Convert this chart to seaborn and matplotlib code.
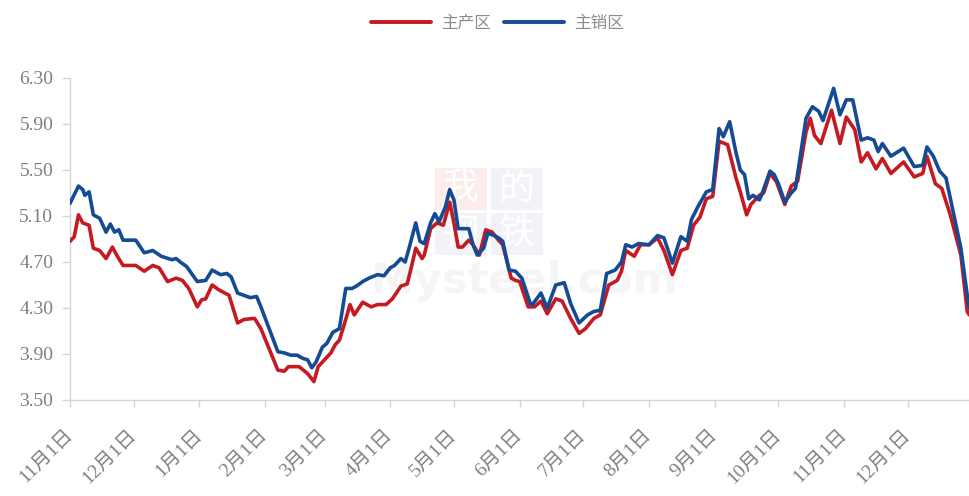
import matplotlib
matplotlib.use("Agg")
import matplotlib.pyplot as plt
import matplotlib.transforms as mtransforms
from matplotlib.lines import Line2D
from matplotlib.patches import Rectangle
import numpy as np
import pandas as pd
import seaborn as sns

# ---- data: price index of main producing / main consuming regions ----
start_date = "2020-11-01"

series_names = ["主产区", "主销区"]

# day offsets from start_date and values for 主产区
days_prod = [0, 2, 4, 6, 9, 11, 14, 17, 20, 22, 25, 31, 35, 39, 42, 46, 50, 53, 56, 60,
             62, 64, 67, 70, 75, 79, 82, 87, 90, 98, 101, 103, 106, 108, 112, 115, 117,
             119, 123, 125, 127, 130, 132, 134, 138, 142, 145, 149, 152, 156, 159, 161,
             163, 166, 167, 170, 173, 176, 179, 181, 183, 185, 188, 190, 193, 196, 199,
             202, 204, 208, 210, 212, 216, 219, 222, 225, 229, 232, 236, 240, 243, 247,
             250, 254, 258, 260, 262, 266, 269, 273, 277, 280, 284, 288, 291, 294, 297,
             300, 303, 306, 310, 314, 316, 319, 321, 325, 327, 330, 333, 337, 340, 343,
             347, 349, 351, 354, 359, 363, 366, 370, 373, 376, 380, 383, 387, 393, 398,
             402, 404, 408, 411, 415, 420, 423, 424]
vals_prod = [4.88, 4.92, 5.11, 5.04, 5.02, 4.82, 4.80, 4.73, 4.83, 4.76, 4.67, 4.67, 4.62,
             4.67, 4.65, 4.53, 4.56, 4.54, 4.47, 4.31, 4.37, 4.38, 4.50, 4.46, 4.41, 4.17,
             4.20, 4.21, 4.12, 3.76, 3.75, 3.79, 3.79, 3.79, 3.73, 3.66, 3.79, 3.83, 3.91,
             3.98, 4.02, 4.20, 4.33, 4.24, 4.35, 4.31, 4.33, 4.33, 4.38, 4.49, 4.51, 4.66,
             4.82, 4.73, 4.76, 4.99, 5.04, 5.02, 5.22, 5.04, 4.83, 4.83, 4.89, 4.85, 4.76,
             4.98, 4.96, 4.89, 4.85, 4.56, 4.54, 4.53, 4.31, 4.31, 4.36, 4.25, 4.38, 4.36,
             4.21, 4.08, 4.12, 4.21, 4.24, 4.50, 4.54, 4.62, 4.80, 4.75, 4.85, 4.85, 4.91,
             4.80, 4.59, 4.80, 4.82, 5.02, 5.09, 5.25, 5.27, 5.75, 5.72, 5.43, 5.31, 5.11,
             5.20, 5.28, 5.30, 5.47, 5.40, 5.20, 5.36, 5.40, 5.83, 5.95, 5.80, 5.73, 6.02,
             5.73, 5.96, 5.85, 5.57, 5.65, 5.51, 5.60, 5.47, 5.57, 5.44, 5.47, 5.62, 5.38,
             5.34, 5.11, 4.76, 4.27, 4.24]

# day offsets from start_date and values for 主销区
days_sales = [0, 4, 6, 7, 9, 11, 14, 17, 19, 21, 23, 25, 31, 35, 39, 43, 48, 50, 52, 55,
              60, 64, 67, 71, 74, 76, 79, 82, 85, 88, 90, 98, 101, 104, 107, 110, 112,
              114, 116, 119, 121, 124, 127, 130, 133, 135, 138, 141, 145, 148, 151, 153,
              156, 158, 160, 163, 165, 167, 170, 172, 174, 177, 179, 181, 183, 185, 188,
              190, 192, 195, 197, 200, 202, 204, 207, 210, 213, 217, 218, 222, 225, 229,
              233, 236, 240, 244, 247, 250, 253, 257, 260, 262, 265, 268, 273, 277, 280,
              284, 288, 291, 293, 296, 300, 303, 306, 308, 311, 314, 316, 318, 320, 322,
              325, 326, 330, 332, 334, 337, 340, 342, 347, 350, 353, 355, 360, 363, 366,
              369, 373, 376, 379, 381, 383, 387, 393, 398, 402, 404, 407, 410, 413, 417,
              420, 423, 424]
vals_sales = [5.21, 5.36, 5.33, 5.28, 5.31, 5.11, 5.08, 4.96, 5.03, 4.96, 4.98, 4.89, 4.89,
              4.78, 4.80, 4.75, 4.72, 4.73, 4.70, 4.66, 4.53, 4.54, 4.63, 4.59, 4.60, 4.57,
              4.43, 4.41, 4.39, 4.40, 4.31, 3.92, 3.91, 3.89, 3.89, 3.86, 3.85, 3.78, 3.83,
              3.96, 3.99, 4.09, 4.12, 4.47, 4.47, 4.49, 4.53, 4.56, 4.59, 4.58, 4.65, 4.67,
              4.73, 4.70, 4.83, 5.04, 4.88, 4.86, 5.04, 5.12, 5.05, 5.18, 5.33, 5.24, 4.99,
              4.99, 4.99, 4.85, 4.76, 4.82, 4.95, 4.93, 4.91, 4.88, 4.63, 4.62, 4.56, 4.34,
              4.33, 4.43, 4.30, 4.50, 4.52, 4.34, 4.17, 4.24, 4.27, 4.28, 4.60, 4.63, 4.70,
              4.85, 4.83, 4.86, 4.85, 4.93, 4.91, 4.69, 4.92, 4.88, 5.07, 5.18, 5.31, 5.33,
              5.86, 5.79, 5.92, 5.65, 5.50, 5.46, 5.25, 5.28, 5.24, 5.28, 5.49, 5.46, 5.38,
              5.22, 5.30, 5.34, 5.95, 6.05, 6.01, 5.93, 6.21, 5.98, 6.11, 6.11, 5.76, 5.78,
              5.76, 5.66, 5.73, 5.62, 5.69, 5.53, 5.54, 5.70, 5.62, 5.49, 5.43, 5.08, 4.82,
              4.41, 4.30]

y_ticks = [3.50, 3.90, 4.30, 4.70, 5.10, 5.50, 5.90, 6.30]
x_tick_dates = pd.date_range("2020-11-01", "2021-12-01", freq="MS")
x_tick_labels = [f"{d.month}月1日" for d in x_tick_dates]

colors = {"主产区": "#C51A22", "主销区": "#154A94"}

# ---- assemble long-form table ----
t0 = pd.Timestamp(start_date)
df = pd.concat([
    pd.DataFrame({"date": t0 + pd.to_timedelta(days_prod, unit="D"),
                  "price": vals_prod, "region": series_names[0]}),
    pd.DataFrame({"date": t0 + pd.to_timedelta(days_sales, unit="D"),
                  "price": vals_sales, "region": series_names[1]}),
], ignore_index=True)

sns.set_theme(style="white")
plt.rcParams["font.family"] = ["Liberation Serif", "Noto Sans CJK SC", "DejaVu Sans"]

fig = plt.figure(figsize=(9.7, 4.96), dpi=100)
ax = fig.add_axes([70 / 970, 1 - 400 / 496, 900 / 970, 322 / 496])

# faint brand watermark behind the lines: 2x2 tile logo plus site name
ax.text(0.505, 0.37, "Mysteel.com", transform=ax.transAxes, ha="center", va="center",
        fontsize=31, fontweight="bold", color="#f5f5f7", family="DejaVu Sans", zorder=0)
logo = [("我", 0.405, 0.59, "#fcecec"), ("的", 0.468, 0.59, "#f2f3f8"),
        ("钢", 0.405, 0.45, "#f2f3f8"), ("铁", 0.468, 0.45, "#f2f3f8")]
for ch, lx, ly, c in logo:
    ax.add_patch(Rectangle((lx, ly), 0.058, 0.13, transform=ax.transAxes,
                           facecolor=c, edgecolor="none", zorder=0))
    ax.text(lx + 0.029, ly + 0.065, ch, transform=ax.transAxes, ha="center",
            va="center", fontsize=26, color="white", family=["Noto Sans CJK SC"],
            zorder=0.5)

sns.lineplot(data=df, x="date", y="price", hue="region", palette=colors,
             hue_order=series_names, linewidth=2.6, ax=ax, legend=False, zorder=3)

ax.set_xlim(t0, t0 + pd.Timedelta(days=424.3))
ax.set_ylim(3.5, 6.3)
ax.set_xlabel("")
ax.set_ylabel("")

ax.set_yticks(y_ticks)
ax.set_yticklabels([f"{v:.2f}" for v in y_ticks])
ax.set_xticks(x_tick_dates)
ax.set_xticklabels(x_tick_labels, rotation=45, ha="right", va="top",
                   rotation_mode="anchor")

grey = "#d4d4d4"
for side in ["top", "right"]:
    ax.spines[side].set_visible(False)
for side in ["left", "bottom"]:
    ax.spines[side].set_color(grey)
    ax.spines[side].set_linewidth(1.0)

ax.tick_params(axis="y", direction="out", length=6, width=1, color=grey,
               labelcolor="#7f7f7f", labelsize=14, pad=6, left=True)
ax.tick_params(axis="x", direction="out", length=5, width=1, color=grey,
               labelcolor="#7f7f7f", labelsize=14, pad=14, bottom=True)
offset = mtransforms.ScaledTranslation(-6 / 100, 0, fig.dpi_scale_trans)
for lbl in ax.get_xticklabels():
    lbl.set_transform(lbl.get_transform() + offset)

ax.grid(False)

handles = [Line2D([], [], color=colors[n], linewidth=2.8) for n in series_names]
leg = fig.legend(handles, series_names, loc="upper center", bbox_to_anchor=(0.513, 1.0),
                 ncol=2, frameon=False, handlelength=3.6, handletextpad=0.6,
                 columnspacing=0.8, prop={"family": ["Noto Sans CJK SC"], "size": 12})
for txt in leg.get_texts():
    txt.set_color("#8c8c8c")

fig.savefig("out.png", dpi=100)
